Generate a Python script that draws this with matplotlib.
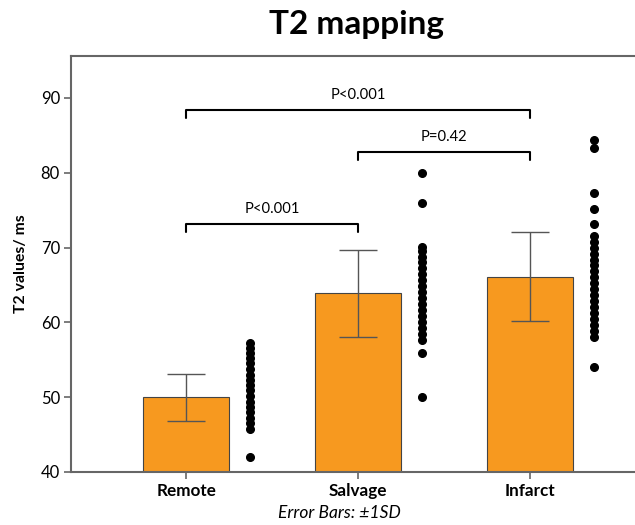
import matplotlib.pyplot as plt

# group summaries
groups = ['Remote', 'Salvage', 'Infarct']
means = [50.0, 63.9, 66.1]
sd_upper = [53.1, 69.7, 72.1]
sd_lower = [46.8, 58.0, 60.2]

# individual T2 values per group
remote_pts = [42.0, 45.8, 46.5, 47.2, 48.0, 48.7, 49.4, 50.1, 50.9, 51.6, 52.3, 53.0, 53.8,
              54.5, 55.2, 55.9, 56.6, 57.2]
salvage_pts = [50.0, 55.9, 57.6, 58.4, 59.2, 60.0, 60.8, 61.6, 62.4, 63.2, 64.0, 64.8, 65.6,
               66.4, 67.2, 68.0, 68.8, 69.5, 70.1, 76.0, 80.0]
infarct_pts = [54.0, 58.0, 58.8, 59.6, 60.4, 61.2, 62.0, 62.8, 63.6, 64.4, 65.2, 66.0, 66.8,
               67.6, 68.4, 69.2, 70.0, 70.8, 71.5, 73.2, 75.2, 77.3, 83.3, 84.4]
points = [remote_pts, salvage_pts, infarct_pts]

# significance brackets: (from group, to group, height, label)
brackets = [(0, 2, 88.4, 'P<0.001'),
            (1, 2, 82.8, 'P=0.42'),
            (0, 1, 73.2, 'P<0.001')]

orange = '#F7991F'
grey = '#666666'
fonts = ['Lato', 'DejaVu Sans']

fig = plt.figure(figsize=(6.35, 5.25), dpi=100)
ax = fig.add_axes([0.1118, 0.1010, 0.8882, 0.7923])

x = list(range(len(groups)))
ax.bar(x, means, width=0.5, color=orange, edgecolor='#444444', linewidth=0.8, zorder=2)

err_lo = [m - l for m, l in zip(means, sd_lower)]
err_hi = [u - m for m, u in zip(means, sd_upper)]
ax.errorbar(x, means, yerr=[err_lo, err_hi], fmt='none', ecolor='#555555',
            elinewidth=1.0, capsize=14, capthick=1.0, zorder=3)

for i, pts in enumerate(points):
    ax.plot([i + 0.37] * len(pts), pts, 'o', color='black', markersize=5.5, zorder=4)

for a, b, h, lab in brackets:
    drop = 1.1
    ax.plot([a, a, b, b], [h - drop, h, h, h - drop], color='black', lw=1.5,
            solid_joinstyle='round', solid_capstyle='round', zorder=5)
    ax.text((a + b) / 2, h + 1.0, lab, ha='center', va='bottom', fontsize=10.6, family=fonts)

ax.set_xlim(-0.669, 2.61)
ax.set_ylim(40, 95.6)
ax.set_yticks([40, 50, 60, 70, 80, 90])
ax.set_xticks(x)
ax.set_xticklabels(groups, fontsize=12.3, fontweight='bold', family=fonts)
for lbl in ax.get_yticklabels():
    lbl.set_fontsize(12)
    lbl.set_family(fonts)

ax.set_ylabel('T2 values/ ms', fontsize=11.3, fontweight='bold', family=fonts, labelpad=9)

for side in ['left', 'bottom', 'top']:
    ax.spines[side].set_color(grey)
    ax.spines[side].set_linewidth(1.5)
ax.spines['right'].set_visible(False)
ax.tick_params(axis='both', color=grey, width=1.2, length=5, pad=3)

fig.text(0.5622, 0.953, 'T2 mapping', ha='center', va='center', fontsize=24,
         fontweight='bold', family=fonts)
fig.text(0.534, 0.022, 'Error Bars: \u00b11SD', ha='center', va='center', fontsize=12.5,
         style='italic', family=fonts)

fig.savefig('out.png', dpi=100)
